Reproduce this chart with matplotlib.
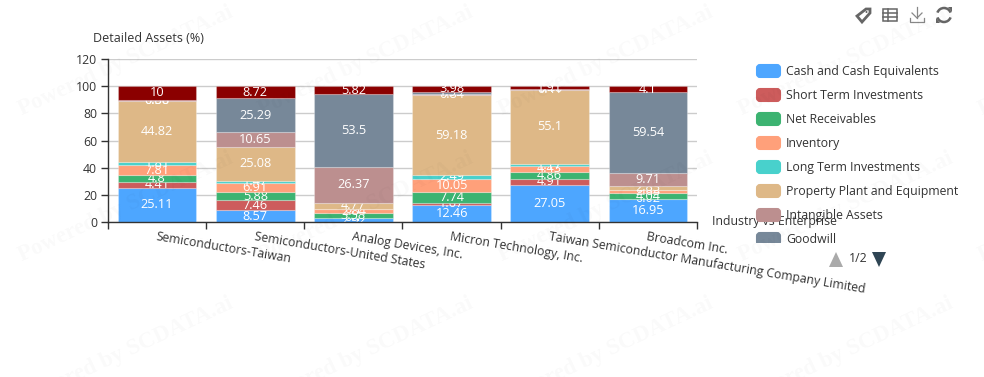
import matplotlib
matplotlib.use("Agg")
import matplotlib.pyplot as plt
import numpy as np
from matplotlib.patches import FancyBboxPatch, Rectangle, Polygon, Circle, Arc

plt.rcParams['font.family'] = ['Open Sans', 'Noto Sans', 'DejaVu Sans']

enterprises = ["Semiconductors-Taiwan", "Semiconductors-United States", "Analog Devices, Inc.",
               "Micron Technology, Inc.", "Taiwan Semiconductor Manufacturing Company Limited", "Broadcom Inc."]
cash = [25.11, 8.57, 2.92, 12.46, 27.05, 16.95]
short_term = [4.41, 7.46, 0.1, 1.67, 4.91, 0.02]
receivables = [4.8, 5.88, 3.58, 7.74, 4.86, 4.04]
inventory = [7.81, 6.91, 2.84, 10.05, 4.43, 2.63]
long_term = [1.81, 1.47, 0.1, 2.49, 1.17, 0.02]
ppe = [44.82, 25.08, 4.77, 59.18, 55.1, 2.83]
intangible = [0.86, 10.65, 26.37, 0.84, 0.41, 9.71]
goodwill = [0.38, 25.29, 53.5, 1.59, 0.16, 59.54]
other = [10, 8.72, 5.82, 3.98, 1.91, 4.1]

series_names = ["Cash and Cash Equivalents", "Short Term Investments", "Net Receivables", "Inventory",
                "Long Term Investments", "Property Plant and Equipment", "Intangible Assets", "Goodwill"]
series = [cash, short_term, receivables, inventory, long_term, ppe, intangible, goodwill, other]
colors = ["#4DA6FF", "#CD5C5C", "#3CB371", "#FFA07A", "#48D1CC", "#DEB887", "#BC8F8F", "#778899", "#8B0000"]
y_ticks = [0, 20, 40, 60, 80, 100, 120]

W, H = 984, 377
fig = plt.figure(figsize=(W / 100, H / 100), dpi=100)
L, R, T, B = 108, 697, 59, 222
ax = fig.add_axes([L / W, 1 - B / H, (R - L) / W, (B - T) / H])
FS = 8.8
x = np.arange(len(enterprises))
bottom = np.zeros(len(x))
for i, (vals, c) in enumerate(zip(series, colors)):
    v = np.array(vals)
    # each series' labels lie above its own bars but below the next series' bars
    ax.bar(x, v, 0.8, bottom=bottom, color=c, edgecolor=(1, 1, 1, 0.25), linewidth=0.8, zorder=3 + 2 * i)
    for xi, b, val in zip(x, bottom, v):
        ax.text(xi, b + val / 2, f"{val:g}", color="white", ha="center", va="center",
                fontsize=9.2, zorder=4 + 2 * i)
    bottom += v

ax.set_xlim(-0.5, 5.5)
ax.set_ylim(0, 120)
ax.set_yticks(y_ticks)
ax.set_xticks(np.arange(-0.5, 6, 1))
ax.set_xticklabels([])
ax.set_xticks(x, minor=True)
ax.set_xticklabels(enterprises, minor=True, rotation=-9.5, ha="left", va="top",
                   rotation_mode="anchor", fontsize=FS, color="#333333")
ax.tick_params(axis="x", which="minor", length=0, pad=6)
ax.tick_params(axis="x", which="major", length=5, width=1, color="#333333", direction="out")
ax.tick_params(axis="y", length=5, width=1, color="#333333", labelsize=FS, labelcolor="#333333", pad=3)
ax.grid(axis="y", color="#cccccc", linewidth=1, zorder=0)
ax.set_axisbelow(True)
for s in ("top", "right"):
    ax.spines[s].set_visible(False)
for s in ("left", "bottom"):
    ax.spines[s].set_color("#333333")
    ax.spines[s].set_linewidth(1)
    ax.spines[s].set_zorder(40)

# overlay in pixel coordinates
ov = fig.add_axes([0, 0, 1, 1], facecolor="none")
ov.set_xlim(0, W)
ov.set_ylim(H, 0)
ov.axis("off")
ov.text(93, 38, "Detailed Assets (%)", fontsize=9, color="#333333", ha="left", va="center")
ov.text(712, 222, "Industry vs Enterprise", fontsize=FS, color="#333333", ha="left", va="center")

# legend
ov.add_patch(Rectangle((752, 206), 212, 37, facecolor="white", alpha=0.55, edgecolor="none", zorder=2))
clip = Rectangle((750, 55), 220, 188, transform=ov.transData)
for i, (name, c) in enumerate(zip(series_names, colors)):
    yc = 71 + 24 * i
    p = FancyBboxPatch((757, yc - 6), 23, 12, boxstyle="round,pad=0,rounding_size=3", mutation_aspect=1,
                       facecolor=c, edgecolor=c, linewidth=1.5, zorder=3)
    ov.add_patch(p)
    p.set_clip_path(clip)
    t = ov.text(786, yc + 0.5, name, fontsize=FS, color="#333333", ha="left", va="center", zorder=3)
    t.set_clip_path(clip)

# pager
ov.add_patch(Polygon([[829, 267], [843, 267], [836, 252]], closed=True, facecolor="#aaaaaa", edgecolor="none"))
ov.add_patch(Polygon([[872, 252], [886, 252], [879, 267]], closed=True, facecolor="#2f4554", edgecolor="none"))
ov.text(858, 259, "1/2", fontsize=FS, color="#333333", ha="center", va="center")

# toolbox icons
g = "#666666"
ov.add_patch(Polygon([[857, 16], [866, 9], [870, 9], [870, 13], [862, 22]], closed=True, fc="none", ec=g, lw=2))
ov.add_patch(Circle((866.5, 12), 1, fc=g, ec="none"))
ov.add_patch(Rectangle((883, 9), 14, 12, fc="none", ec=g, lw=1.1))
for yy in (13, 17):
    ov.plot([883, 897], [yy, yy], color=g, lw=1.1)
ov.plot([887.5, 887.5], [9, 21], color=g, lw=1.1)
ov.plot([917, 917], [7, 18], color="#888888", lw=0.9)
ov.plot([912, 917, 922], [13, 18, 13], color="#888888", lw=0.9)
ov.plot([910, 910, 924, 924], [18, 22, 22, 18], color="#888888", lw=0.9)
ov.add_patch(Arc((944, 15), 14, 14, theta1=200, theta2=340, ec=g, lw=1.8))
ov.add_patch(Arc((944, 15), 14, 14, theta1=20, theta2=160, ec=g, lw=1.8))
ov.add_patch(Polygon([[948, 7], [952, 7], [952, 12]], closed=True, fc=g, ec="none"))
ov.add_patch(Polygon([[940, 23], [936, 23], [936, 18]], closed=True, fc=g, ec="none"))

# watermark
for end_y in (9, 154.5, 300):
    for end_x in range(-1, 1300, 240):
        ov.text(end_x - 113, end_y + 52, "Powered by SCDATA.ai", family="Liberation Serif", fontsize=16.5,
                weight="bold", color="#000000", alpha=0.025, rotation=25, ha="center", va="center", zorder=50)

fig.savefig("out.png", dpi=100)
